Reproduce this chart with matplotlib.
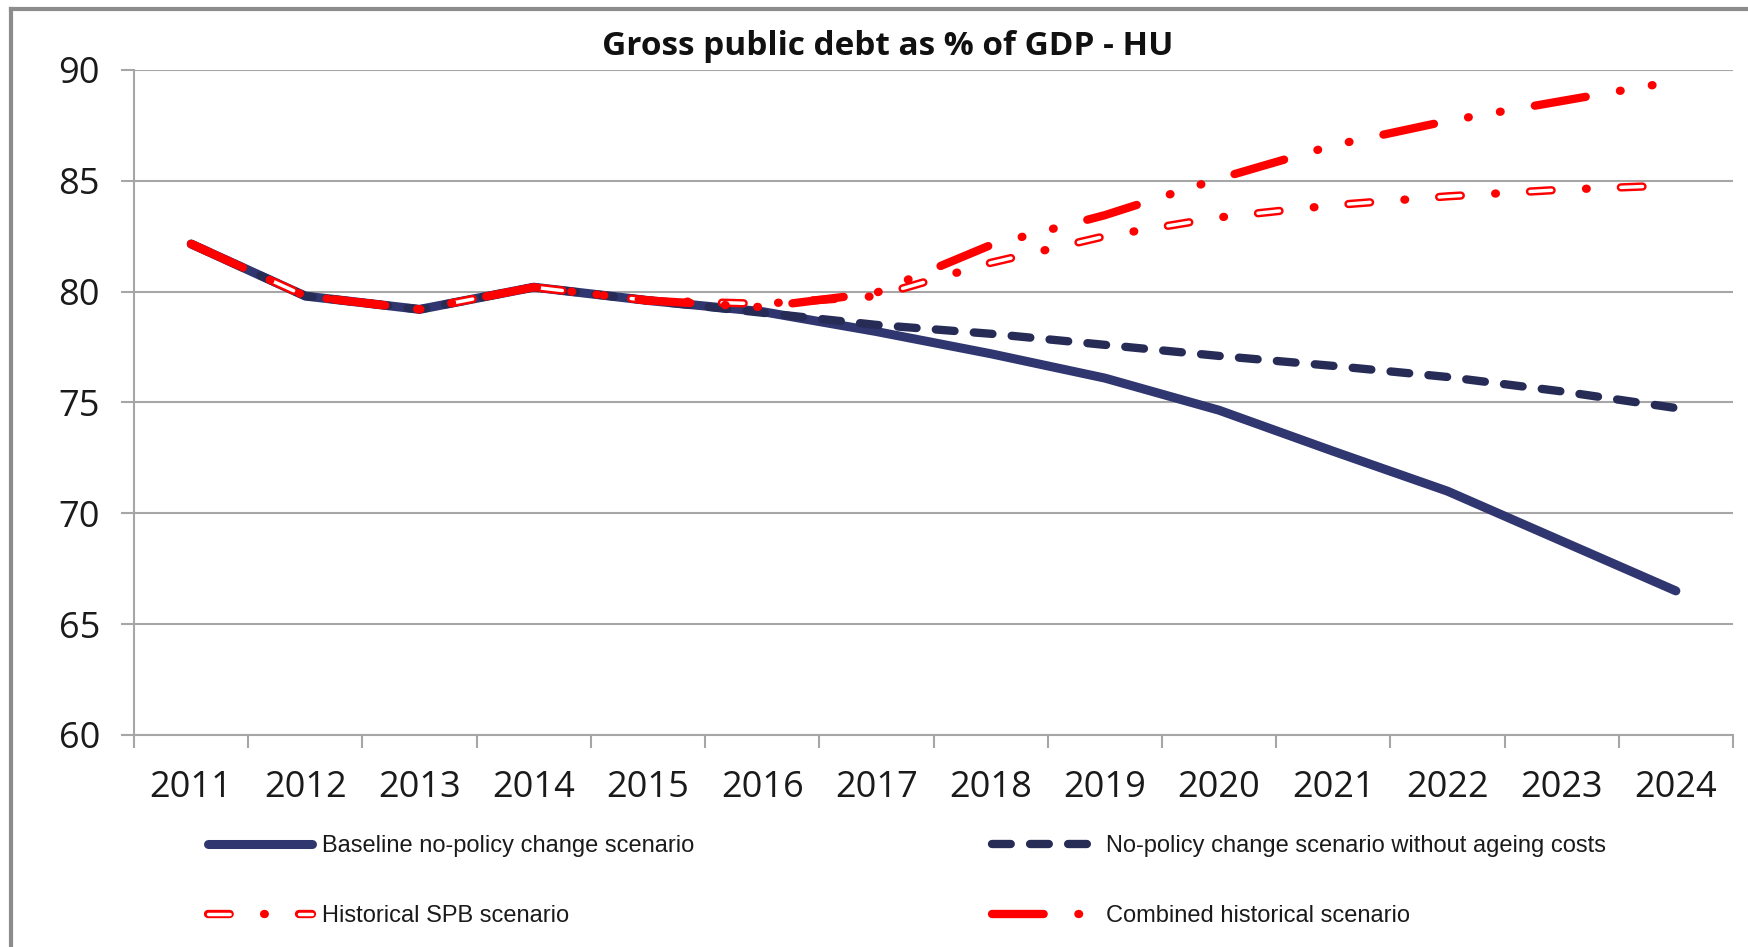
import matplotlib
matplotlib.use("Agg")
import matplotlib.pyplot as plt
from matplotlib.lines import Line2D
from matplotlib.legend_handler import HandlerTuple

# Données (dette publique brute, % du PIB)
years = ["2011", "2012", "2013", "2014", "2015", "2016", "2017",
         "2018", "2019", "2020", "2021", "2022", "2023", "2024"]
baseline = [82.15, 79.8, 79.2, 80.2, 79.6, 79.1, 78.2,
            77.2, 76.1, 74.65, 72.8, 71.0, 68.75, 66.5]
no_ageing = [82.15, 79.8, 79.2, 80.2, 79.6, 79.05, 78.5,
             78.1, 77.6, 77.1, 76.65, 76.15, 75.5, 74.75]
hist_spb = [82.15, 79.8, 79.2, 80.2, 79.6, 79.45, 79.8,
            81.3, 82.5, 83.35, 83.9, 84.3, 84.6, 84.8]
combined = [82.15, 79.8, 79.2, 80.2, 79.6, 79.3, 79.95,
            82.1, 83.45, 85.1, 86.6, 87.7, 88.6, 89.5]

labels = ["Baseline no-policy change scenario",
          "No-policy change scenario without ageing costs",
          "Historical SPB scenario",
          "Combined historical scenario"]

navy = "#30366F"
navy_dark = "#272C57"
red = "#FF0000"
grey = "#A6A6A6"

plt.rcParams["lines.scale_dashes"] = False
tick_font = ["Open Sans", "DejaVu Sans"]
leg_font = ["Liberation Sans Narrow", "Liberation Sans", "DejaVu Sans"]

fig = plt.figure(figsize=(17.48, 9.47), dpi=100)
ax = fig.add_axes([0.0767, 0.2239, 0.9147, 0.7022])

x = list(range(len(years)))

l1, = ax.plot(x, baseline, color=navy, lw=6.5, solid_capstyle="round",
              solid_joinstyle="round", zorder=3)
l2, = ax.plot(x, no_ageing, color=navy_dark, lw=6, dashes=(13.5, 13.9),
              dash_capstyle="round", zorder=4)
# tirets "creux" : trait rouge épais + trait blanc fin par-dessus
l3a, = ax.plot(x, hist_spb, color=red, lw=6, dashes=(15.6, 24.8, 0.5, 24.6),
               dash_capstyle="round", zorder=5)
l3b, = ax.plot(x, hist_spb, color="white", lw=2.5, dashes=(15.6, 49.9),
               dash_capstyle="round", zorder=6)
l4, = ax.plot(x, combined, color=red, lw=6,
              dashes=(37.2, 25, 0.5, 22.8, 0.5, 25),
              dash_capstyle="round", zorder=7)

ax.set_xlim(-0.5, len(years) - 0.5)
ax.set_ylim(60, 90)
ax.set_yticks(range(60, 91, 5))

# ticks majeurs aux limites des catégories, étiquettes au centre
ax.set_xticks([i - 0.5 for i in range(len(years) + 1)])
ax.set_xticklabels([])
ax.set_xticks(x, minor=True)
ax.set_xticklabels(years, minor=True, fontsize=26, family=tick_font, color="#1a1a1a")
ax.tick_params(axis="x", which="major", length=9, width=1.5, color=grey, direction="out")
ax.tick_params(axis="x", which="minor", length=0, pad=25.5)
ax.tick_params(axis="y", length=9.5, width=1.5, color=grey, pad=15,
               labelsize=26, labelcolor="#1a1a1a")
for t in ax.get_yticklabels():
    t.set_family(tick_font)

ax.grid(axis="y", color=grey, lw=1.5)
ax.set_axisbelow(True)
for s in ["top", "right"]:
    ax.spines[s].set_visible(False)
for s in ["left", "bottom"]:
    ax.spines[s].set_color(grey)
    ax.spines[s].set_linewidth(1.5)

fig.text(0.508, 0.951, "Gross public debt as % of GDP - HU", ha="center", va="center",
         fontsize=24, fontweight="bold", family=tick_font, color="#111111")

# cadre gris du graphique (bord gauche et haut)
fig.add_artist(Line2D([11 / 1748, 11 / 1748], [0, 1 - 9 / 947], transform=fig.transFigure,
                      color="#8C8C8C", lw=3))
fig.add_artist(Line2D([11 / 1748, 1], [1 - 9 / 947, 1 - 9 / 947], transform=fig.transFigure,
                      color="#8C8C8C", lw=3))

leg_kw = dict(frameon=False, loc="upper left", handlelength=4.4, handletextpad=0.42,
              labelspacing=2.05, borderpad=0, borderaxespad=0,
              prop={"family": leg_font, "size": 17},
              handler_map={tuple: HandlerTuple(ndivide=1, pad=0)})
leg1 = fig.legend([l1, (l3a, l3b)], [labels[0], labels[2]],
                  bbox_to_anchor=(208 / 1748, 1 - 835 / 947), **leg_kw)
leg2 = fig.legend([l2, l4], [labels[1], labels[3]],
                  bbox_to_anchor=(992 / 1748, 1 - 835 / 947), **leg_kw)
for leg in (leg1, leg2):
    for t in leg.get_texts():
        t.set_color("#1a1a1a")

fig.savefig("out.png", dpi=100)
